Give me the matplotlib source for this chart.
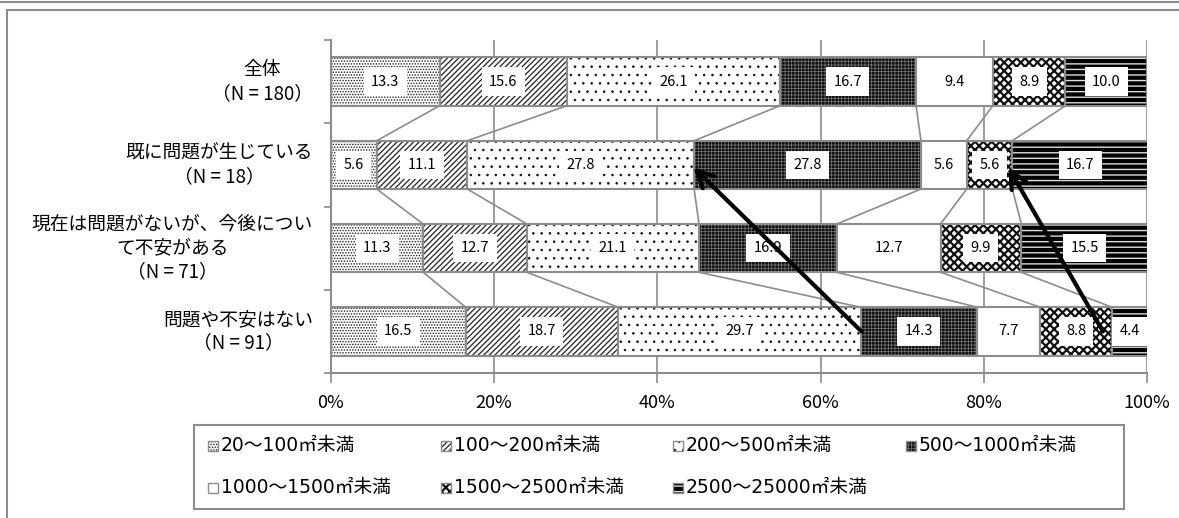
import matplotlib
matplotlib.use("Agg")
import matplotlib.pyplot as plt
from matplotlib.patches import Rectangle
from matplotlib.lines import Line2D
import numpy as np

plt.rcParams['font.family'] = ['Noto Sans CJK JP', 'DejaVu Sans']

categories = ["全体\n（N = 180）",
              "既に問題が生じている\n（N = 18）",
              "現在は問題がないが、今後につい\nて不安がある\n（N = 71）",
              "問題や不安はない\n（N = 91）"]
series_names = ["20〜100㎡未満", "100〜200㎡未満", "200〜500㎡未満", "500〜1000㎡未満",
                "1000〜1500㎡未満", "1500〜2500㎡未満", "2500〜25000㎡未満"]
values = [
    [13.3, 15.6, 26.1, 16.7, 9.4, 8.9, 10.0],
    [5.6, 11.1, 27.8, 27.8, 5.6, 5.6, 16.7],
    [11.3, 12.7, 21.1, 16.9, 12.7, 9.9, 15.5],
    [16.5, 18.7, 29.7, 14.3, 7.7, 8.8, 4.4],
]
xticks = [0, 20, 40, 60, 80, 100]
xtick_labels = ["0%", "20%", "40%", "60%", "80%", "100%"]
# arrows: (tail_x, tail_row) -> (head_x, head_row)
arrow_tails = [(65.0, 3.0), (94.6, 3.0)]
arrow_heads = [(44.4, 1.03), (83.0, 1.03)]

# styles: (facecolor, hatch, hatchcolor, hatch linewidth)
styles = [
    ("white", "......", "#222222", 0.7),
    ("white", "//////", "#222222", 0.9),
    ("white", "..", "#111111", 0.6),
    ("#111111", "+++++", "#777777", 0.5),
    ("white", None, None, 1.0),
    ("white", "xxxx", "#111111", 1.6),
    ("#000000", "---", "#dddddd", 1.0),
]

W, H = 1179, 518
fig = plt.figure(figsize=(W / 100, H / 100), dpi=100)
ax = fig.add_axes([331 / W, 1 - 373 / H, 816 / W, 333 / H])

vals = np.array(values)
n_cat, n_ser = vals.shape
y = np.arange(n_cat)
left = np.zeros(n_cat)
bar_h = 0.58
edge_gray = "#8c8c8c"

for j in range(n_ser):
    fc, hatch, hc, hlw = styles[j]
    with plt.rc_context({'hatch.linewidth': hlw}):
        if hatch:
            ax.barh(y, vals[:, j], left=left, height=bar_h, color=fc,
                    hatch=hatch, edgecolor=hc, linewidth=0, zorder=2)
        else:
            ax.barh(y, vals[:, j], left=left, height=bar_h, color=fc,
                    linewidth=0, zorder=2)
    ax.barh(y, vals[:, j], left=left, height=bar_h, fill=False,
            edgecolor=edge_gray, linewidth=1.5, zorder=3)
    for i in range(n_cat):
        ax.text(left[i] + vals[i, j] / 2, y[i], f"{vals[i, j]:.1f}",
                ha="center", va="center", fontsize=10.5, zorder=4,
                bbox=dict(boxstyle="square,pad=0.5", fc="white", ec="none"))
    left = left + vals[:, j]

# series lines between bars
cum = np.cumsum(vals, axis=1)
for j in range(n_ser - 1):
    for i in range(n_cat - 1):
        ax.plot([cum[i, j], cum[i + 1, j]], [y[i] + bar_h / 2, y[i + 1] - bar_h / 2],
                color=edge_gray, lw=1.2, zorder=1.5)

# arrows
for (tx, ty), (hx, hy) in zip(arrow_tails, arrow_heads):
    ax.annotate("", xy=(hx, hy), xytext=(tx, ty),
                arrowprops=dict(arrowstyle="->", lw=3, color="black",
                                mutation_scale=30, shrinkA=0, shrinkB=0),
                zorder=6)

ax.set_xlim(0, 100)
ax.set_ylim(n_cat - 0.5, -0.5)
ax.set_xticks(xticks)
ax.set_xticklabels(xtick_labels, fontsize=13)
ax.grid(axis="x", color=edge_gray, lw=1.2, zorder=0)
ax.tick_params(axis="x", length=7, width=1.2, color=edge_gray, pad=8)
ax.set_yticks([])
ax.set_yticks(np.arange(-0.5, n_cat, 1.0), minor=True)
ax.tick_params(axis="y", which="minor", length=5, width=1.2, color=edge_gray, direction="out")
for s in ["top", "right"]:
    ax.spines[s].set_visible(False)
for s in ["left", "bottom"]:
    ax.spines[s].set_color(edge_gray)
    ax.spines[s].set_linewidth(1.5)

for i, c in enumerate(categories):
    ax.text(-2.2, y[i], c, ha="right", va="center", multialignment="center",
            fontsize=13.5, linespacing=1.15, transform=ax.transData)

# legend, laid out in equal-width columns (row-major) like the reference
def fx(px):
    return px / W

def fy(py):
    return 1 - py / H

fig.add_artist(Rectangle((fx(194), fy(509)), fx(1124) - fx(194), fy(425) - fy(509),
                         fill=True, facecolor="white", edgecolor=edge_gray, lw=1.5,
                         transform=fig.transFigure))
ncol = 4
col_x0, col_w = 208, 232.5
row_y0, row_h = 445, 42
msize = 10
for k in range(n_ser):
    r, c = divmod(k, ncol)
    mx = col_x0 + c * col_w
    my = row_y0 + r * row_h
    fc, hatch, hc, hlw = styles[k]
    with plt.rc_context({'hatch.linewidth': hlw}):
        if hatch:
            fig.add_artist(Rectangle((fx(mx), fy(my + 1 + msize / 2)), msize / W, msize / H,
                                     facecolor=fc, hatch=hatch, edgecolor=hc, lw=0,
                                     transform=fig.transFigure))
    fig.add_artist(Rectangle((fx(mx), fy(my + 1 + msize / 2)), msize / W, msize / H,
                             fill=False, edgecolor=edge_gray, lw=1.0,
                             transform=fig.transFigure))
    fig.text(fx(mx + msize + 3), fy(my), series_names[k], ha="left", va="center",
             fontsize=13.5, family=['DejaVu Sans', 'Noto Sans CJK JP'])

# outer frame
fig.add_artist(Line2D([0, 1], [1 - 1.5 / H, 1 - 1.5 / H], color=edge_gray, lw=1.5))
fig.add_artist(Rectangle((7 / W, -0.1), 1.2, 1.1 - 10 / H, fill=False,
                         edgecolor=edge_gray, lw=1.5, transform=fig.transFigure))

fig.savefig("out.png", dpi=100)
